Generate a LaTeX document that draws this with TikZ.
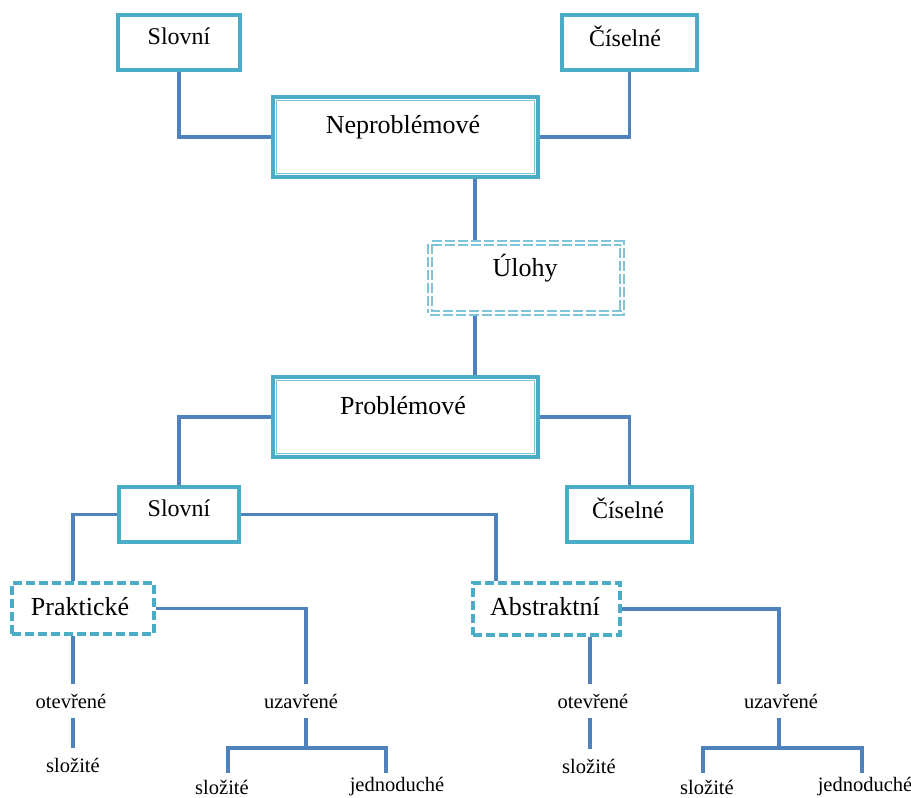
\documentclass[tikz,border=0pt]{standalone}
\usepackage{fontspec}
\setmainfont{Liberation Serif}
\usetikzlibrary{backgrounds}
\definecolor{boxteal}{HTML}{4BACC6}
\definecolor{boxlight}{HTML}{7FC4D8}
\definecolor{linkblue}{HTML}{4F81BD}
\begin{document}
\begin{tikzpicture}[x=1pt,y=-1pt,
  box/.style={draw=boxteal, line width=3.6pt, fill=white, inner sep=0pt},
  dbox/.style={box, dash pattern=on 9pt off 4pt},
  ubox/.style={draw=boxlight, double=white, double distance=1.8pt, line width=1.8pt,
               dash pattern=on 10pt off 3pt, fill=white, inner sep=0pt},
  innerline/.style={draw=boxlight, line width=1.3pt},
  conn/.style={draw=linkblue, line width=3.6pt},
  big/.style={font=\fontsize{26}{30}\selectfont, inner sep=0pt},
  mid/.style={font=\fontsize{24}{28}\selectfont, inner sep=0pt},
  small/.style={font=\fontsize{20.5}{24}\selectfont, inner sep=0pt, minimum height=34pt},
  leaf/.style={font=\fontsize{20.5}{24}\selectfont, inner sep=0pt},
]
\useasboundingbox (0,0) rectangle (911,798);

% x positions of the vertical connector runs
\coordinate (spine) at (475,0);
\coordinate (pkx) at (73,0);
\coordinate (abx) at (496,0);
\coordinate (uzx1) at (306,0);
\coordinate (lx1) at (228,0);
\coordinate (lx2) at (386,0);
\coordinate (abx2) at (590,0);
\coordinate (uzx2) at (779,0);
\coordinate (rx1) at (703,0);
\coordinate (rx2) at (862,0);
\coordinate (br1) at (306,748);
\coordinate (br2) at (779,748);
\coordinate (foot) at (0,773);

% top row
\node[box, minimum width=122pt, minimum height=55pt] (s1) at (179,42.5) {};
\node[mid] (s1t) at (179,36) {Slovní};
\node[box, minimum width=135pt, minimum height=55pt] (c1) at (629.5,42.5) {};
\node[mid] (c1t) at (625,36) {Číselné};

% Neproblémové
\node[box, minimum width=265pt, minimum height=80pt] (nep) at (405.5,137) {};
\draw[innerline] ([shift={(5.5,5.5)}]nep.north west) rectangle ([shift={(-5.5,-5.5)}]nep.south east);
\node[big] (nept) at (403,127) {Neproblémové};

% Úlohy
\node[ubox, minimum width=192pt, minimum height=70pt] (ul) at (526,278) {};
\node[big] (ult) at (525,268) {Úlohy};

% Problémové
\node[box, minimum width=265pt, minimum height=80pt] (prob) at (405.5,417) {};
\draw[innerline] ([shift={(5.5,5.5)}]prob.north west) rectangle ([shift={(-5.5,-5.5)}]prob.south east);
\node[big] (probt) at (403,406) {Problémové};

% second row
\node[box, minimum width=120pt, minimum height=55pt] (s2) at (179,514.5) {};
\node[mid] (s2t) at (179,508) {Slovní};
\node[box, minimum width=125pt, minimum height=55pt] (c2) at (629.5,514.5) {};
\node[mid] (c2t) at (628,508) {Číselné};

% Praktické / Abstraktní
\node[dbox, minimum width=142pt, minimum height=51pt] (prak) at (83,608.5) {};
\node[big] (prakt) at (80,607) {Praktické};
\node[dbox, minimum width=147pt, minimum height=52pt] (abs) at (546.5,609) {};
\node[big] (abst) at (545,607) {Abstraktní};

% leaf labels
\node[small] (ot1) at (71,701) {otevřené};
\node[small] (sl1) at (73,765) {složité};
\node[small] (uz1) at (301,701) {uzavřené};
\node[leaf] (sl2) at (222,787) {složité};
\node[leaf] (jd1) at (397,787) {jednoduché};
\node[small] (ot2) at (593,701) {otevřené};
\node[small] (sl3) at (589,766) {složité};
\node[small] (uz2) at (781,701) {uzavřené};
\node[leaf] (sl4) at (707,787) {složité};
\node[leaf] (jd2) at (865,787) {jednoduché};

% connectors
\begin{scope}[on background layer]
\draw[conn] (s1.south) |- (nep.west);
\draw[conn] (nep.east) -| (c1.south);
\draw[conn] (nep.south -| spine) -- (ul.north -| spine);
\draw[conn] (ul.south -| spine) -- (prob.north -| spine);
\draw[conn] (prob.west) -| (s2.north);
\draw[conn] (prob.east) -| (c2.north);
\draw[conn] (s2.west) -| (prak.north -| pkx);
\draw[conn] (s2.east) -| (abs.north -| abx);
\draw[conn] (prak.east) -| (uz1.north -| uzx1);
\draw[conn] (prak.south -| pkx) -- (ot1.north -| pkx);
\draw[conn] (ot1.south -| pkx) -- (sl1.north -| pkx);
\draw[conn] (uz1.south -| uzx1) -- (br1);
\draw[conn] (foot -| lx1) |- (br1) -| (foot -| lx2);
\draw[conn] (abs.south -| abx2) -- (ot2.north -| abx2);
\draw[conn] (ot2.south -| abx2) -- (sl3.north -| abx2);
\draw[conn] (abs.east) -| (uz2.north -| uzx2);
\draw[conn] (uz2.south -| uzx2) -- (br2);
\draw[conn] (foot -| rx1) |- (br2) -| (foot -| rx2);
\end{scope}
\end{tikzpicture}
\end{document}
